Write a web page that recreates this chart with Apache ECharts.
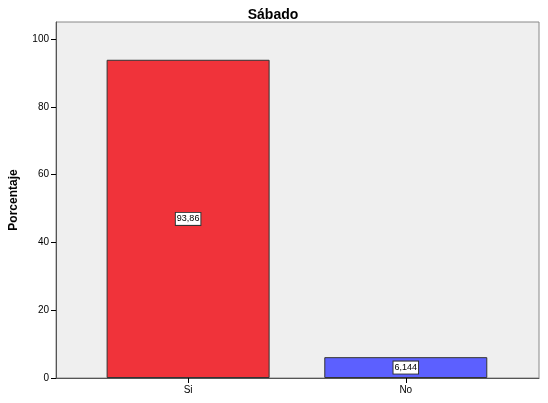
<!DOCTYPE html>
<html><head><meta charset="utf-8">
<script src="https://cdn.jsdelivr.net/npm/echarts@6/dist/echarts.min.js"></script>
<style>html,body{margin:0;padding:0;background:#fff}#c{width:548px;height:403px}</style>
</head><body><div id="c"></div>
<script>
const categories = ['Si', 'No'];
const values = [93.86, 6.144];
const valueLabels = ['93,86', '6,144'];
const colors = ['#f0333a', '#5c60ff'];
const yTicks = [0, 20, 40, 60, 80, 100];

const chart = echarts.init(document.getElementById('c'), null, {renderer: 'canvas'});
chart.setOption({
  animation: false,
  title: {
    text: 'Sábado', left: 268, top: 3, textAlign: 'center',
    textStyle: {fontFamily: 'Liberation Sans, Arial', fontSize: 14, fontWeight: 'bold', color: '#000'}
  },
  grid: {left: 53, right: 9, top: 22, bottom: 25, show: true, backgroundColor: '#efefef', borderColor: '#888', borderWidth: 1},
  xAxis: {
    type: 'value', min: -0.607, max: 1.612,
    splitLine: {show: false},
    axisLine: {show: true, onZero: false, lineStyle: {color: '#555', width: 1}},
    axisTick: {show: true, length: 5, inside: false, customValues: [0, 1], lineStyle: {color: '#000'}},
    axisLabel: {customValues: [0, 1], formatter: v => categories[Math.round(v)], fontFamily: 'Liberation Sans, Arial', fontSize: 10, color: '#000', margin: 7}
  },
  yAxis: {
    type: 'value', min: 0, max: 105, position: 'left',
    name: 'Porcentaje', nameLocation: 'middle', nameGap: 36, nameRotate: 90,
    nameTextStyle: {fontFamily: 'Liberation Sans, Arial', fontSize: 12, fontWeight: 'bold', color: '#000'},
    splitLine: {show: false},
    axisLine: {show: true, onZero: false, lineStyle: {color: '#555', width: 1}},
    axisTick: {show: true, length: 5, customValues: yTicks, lineStyle: {color: '#000'}},
    axisLabel: {customValues: yTicks, fontFamily: 'Liberation Sans, Arial', fontSize: 10, color: '#000', margin: 7}
  },
  series: [{
    type: 'bar',
    barWidth: 163,
    data: values.map((v, i) => ({value: [i, v], itemStyle: {color: colors[i]}})),
    itemStyle: {borderColor: '#333', borderWidth: 1},
    label: {
      show: true, position: 'inside',
      formatter: p => valueLabels[p.dataIndex],
      backgroundColor: '#fff', borderColor: '#333', borderWidth: 1,
      padding: [2, 1, 1, 1],
      fontFamily: 'Liberation Sans, Arial', fontSize: 9, color: '#000'
    }
  }]
});
</script></body></html>
